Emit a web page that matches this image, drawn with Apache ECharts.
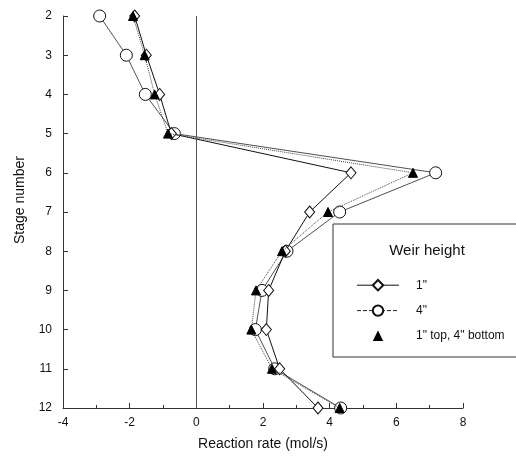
<!DOCTYPE html>
<html><head><meta charset="utf-8">
<script src="https://cdn.jsdelivr.net/npm/echarts@6/dist/echarts.min.js"></script>
<style>html,body{margin:0;padding:0;background:#fff}#c{width:516px;height:456px}</style>
</head><body><div id="c"></div>
<script>
const stages = [2,3,4,5,6,7,8,9,10,11,12];
const rate1in = [-1.85,-1.5,-1.1,-0.75,4.64,3.4,2.67,2.17,2.1,2.5,3.65];
const rate4in = [-2.9,-2.1,-1.53,-0.66,7.18,4.3,2.72,1.97,1.77,2.35,4.33];
const rateMix = [-1.9,-1.55,-1.25,-0.85,6.5,3.95,2.57,1.79,1.65,2.27,4.3];
const xTicks = [-4,-2,0,2,4,6,8];
const names = ['1"','4"','1" top, 4" bottom'];
const font = '"Liberation Sans", Arial, sans-serif';
const pair = arr => arr.map((v,i)=>[v, stages[i]]);
const chart = echarts.init(document.getElementById('c'));
chart.setOption({
  animation:false,
  backgroundColor:'#fff',
  grid:{left:63,right:53,top:16,bottom:43},
  xAxis:{type:'value',min:xTicks[0],max:xTicks[xTicks.length-1],interval:2,
    axisLine:{onZero:false,lineStyle:{color:'#333',width:1}},
    axisTick:{inside:true,length:5,lineStyle:{color:'#333'}},
    minorTick:{show:true,splitNumber:2,length:3,lineStyle:{color:'#333'}},
    splitLine:{show:false},
    axisLabel:{margin:9,color:'#111',fontSize:12,fontFamily:font},
    name:'Reaction rate (mol/s)',nameLocation:'middle',nameGap:29,
    nameTextStyle:{fontSize:14,color:'#111',fontFamily:font}},
  yAxis:{type:'value',inverse:true,min:2,max:12,interval:1,
    axisLine:{onZero:false,lineStyle:{color:'#333',width:1}},
    axisTick:{inside:true,length:5,lineStyle:{color:'#333'}},
    splitLine:{show:false},
    axisLabel:{margin:11,color:'#111',fontSize:12,fontFamily:font}},
  legend:{orient:'vertical',left:351,top:274,itemWidth:42,itemHeight:13,itemGap:13,
    textStyle:{fontSize:12,color:'#111',fontFamily:font,padding:[0,0,0,12]},
    data:[{name:names[0],lineStyle:{width:1}},
          {name:names[1],lineStyle:{type:'dashed',width:1}},
          {name:names[2],lineStyle:{opacity:0}}]},
  graphic:[
    {type:'rect',shape:{x:333,y:224,width:200,height:133},style:{fill:'none',stroke:'#333',lineWidth:1},z:10},
    {type:'text',x:427,y:251,style:{text:'Weir height',fontSize:15,fontFamily:font,fill:'#111',align:'center',verticalAlign:'middle'},z:10},
    {type:'text',x:20,y:200,rotation:Math.PI/2,style:{text:'Stage number',fontSize:14,fontFamily:font,fill:'#111',align:'center',verticalAlign:'middle'},z:10}
  ],
  series:[
    {name:names[0],type:'line',data:pair(rate1in),symbol:'diamond',symbolSize:[10,12],
      lineStyle:{color:'#111',width:1},itemStyle:{color:'#fff',borderColor:'#111',borderWidth:1},z:3,
      markLine:{silent:true,symbol:'none',label:{show:false},lineStyle:{color:'#555',width:1,type:'solid'},data:[{xAxis:0}]}},
    {name:names[1],type:'line',data:pair(rate4in),symbol:'circle',symbolSize:12,
      lineStyle:{color:'#222',width:0.8},itemStyle:{color:'#fff',borderColor:'#111',borderWidth:1},z:2},
    {name:names[2],type:'line',data:pair(rateMix),symbol:'triangle',symbolSize:9,
      lineStyle:{color:'#444',width:1,type:'dotted'},itemStyle:{color:'#000',borderColor:'#000'},z:4}
  ]
});
</script></body></html>
